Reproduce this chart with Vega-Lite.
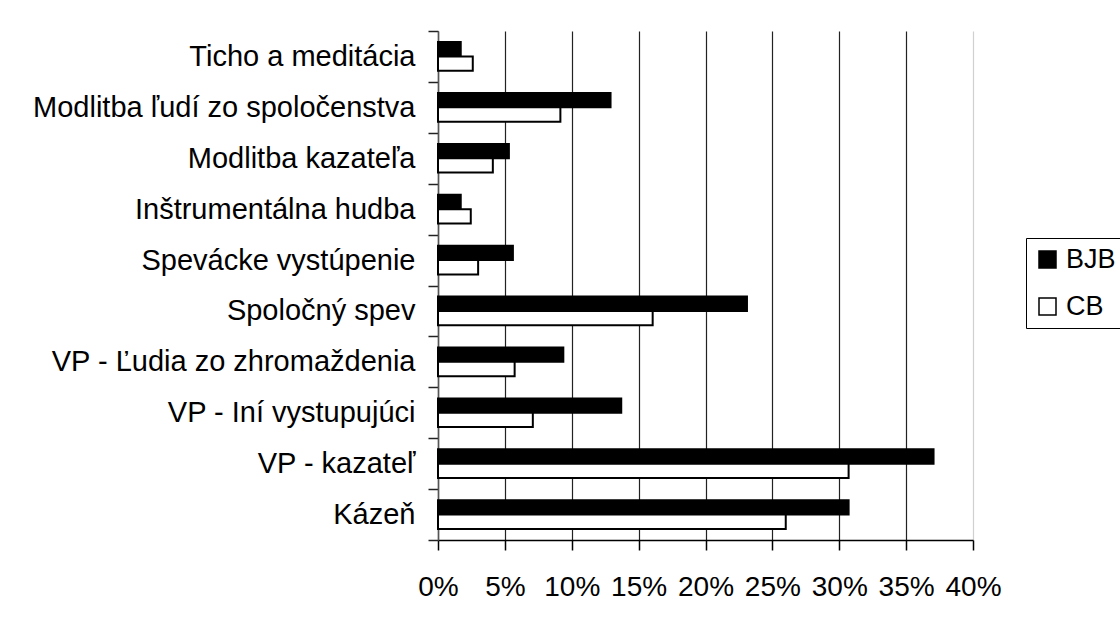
{
  "$schema": "https://vega.github.io/schema/vega-lite/v6.json",
  "width": 535,
  "height": 509,
  "autosize": {"type": "none"},
  "padding": {"left": 438, "top": 31, "right": 147, "bottom": 82},
  "background": "white",
  "data": {
    "values": [
      {"kategoria": "Ticho a meditácia", "skupina": "BJB", "podiel": 0.017},
      {"kategoria": "Ticho a meditácia", "skupina": "CB", "podiel": 0.026},
      {"kategoria": "Modlitba ľudí zo spoločenstva", "skupina": "BJB", "podiel": 0.129},
      {"kategoria": "Modlitba ľudí zo spoločenstva", "skupina": "CB", "podiel": 0.0915},
      {"kategoria": "Modlitba kazateľa", "skupina": "BJB", "podiel": 0.053},
      {"kategoria": "Modlitba kazateľa", "skupina": "CB", "podiel": 0.041},
      {"kategoria": "Inštrumentálna hudba", "skupina": "BJB", "podiel": 0.017},
      {"kategoria": "Inštrumentálna hudba", "skupina": "CB", "podiel": 0.0245},
      {"kategoria": "Spevácke vystúpenie", "skupina": "BJB", "podiel": 0.056},
      {"kategoria": "Spevácke vystúpenie", "skupina": "CB", "podiel": 0.030},
      {"kategoria": "Spoločný spev", "skupina": "BJB", "podiel": 0.231},
      {"kategoria": "Spoločný spev", "skupina": "CB", "podiel": 0.1605},
      {"kategoria": "VP - Ľudia zo zhromaždenia", "skupina": "BJB", "podiel": 0.0937},
      {"kategoria": "VP - Ľudia zo zhromaždenia", "skupina": "CB", "podiel": 0.0573},
      {"kategoria": "VP - Iní vystupujúci", "skupina": "BJB", "podiel": 0.137},
      {"kategoria": "VP - Iní vystupujúci", "skupina": "CB", "podiel": 0.0709},
      {"kategoria": "VP - kazateľ", "skupina": "BJB", "podiel": 0.3705},
      {"kategoria": "VP - kazateľ", "skupina": "CB", "podiel": 0.307},
      {"kategoria": "Kázeň", "skupina": "BJB", "podiel": 0.307},
      {"kategoria": "Kázeň", "skupina": "CB", "podiel": 0.260}
    ]
  },
  "mark": {"type": "bar", "stroke": "black", "strokeWidth": 2},
  "encoding": {
    "y": {
      "field": "kategoria",
      "type": "nominal",
      "sort": ["Ticho a meditácia", "Modlitba ľudí zo spoločenstva", "Modlitba kazateľa", "Inštrumentálna hudba", "Spevácke vystúpenie", "Spoločný spev", "VP - Ľudia zo zhromaždenia", "VP - Iní vystupujúci", "VP - kazateľ", "Kázeň"],
      "scale": {"paddingInner": 0, "paddingOuter": 0},
      "axis": {
        "title": null,
        "tickBand": "extent",
        "grid": false,
        "domainColor": "#555",
        "domainWidth": 1.5,
        "tickColor": "#222",
        "tickWidth": 1.5,
        "tickSize": 10,
        "labelPadding": 13,
        "labelFontSize": 29,
        "labelColor": "black",
        "labelFont": "Liberation Sans",
        "labelLimit": 600
      }
    },
    "yOffset": {
      "field": "skupina",
      "type": "nominal",
      "sort": ["BJB", "CB"],
      "scale": {"paddingOuter": 0.773, "paddingInner": 0}
    },
    "x": {
      "field": "podiel",
      "type": "quantitative",
      "scale": {"domain": [0, 0.4], "nice": false},
      "axis": {
        "title": null,
        "values": [0, 0.05, 0.1, 0.15, 0.2, 0.25, 0.3, 0.35, 0.4],
        "format": ".0%",
        "labelOverlap": false,
        "labelFlush": false,
        "grid": true,
        "gridColor": {"condition": {"test": "datum.value >= 0.399", "value": "#d0d0d0"}, "value": "#222"},
        "gridWidth": 1.2,
        "domainColor": "black",
        "domainWidth": 1.5,
        "tickColor": "black",
        "tickWidth": 1.5,
        "tickSize": 10,
        "labelPadding": 23,
        "labelFontSize": 28,
        "labelColor": "black",
        "labelFont": "Liberation Sans"
      }
    },
    "fill": {
      "field": "skupina",
      "type": "nominal",
      "scale": {"domain": ["BJB", "CB"], "range": ["black", "white"]},
      "legend": {
        "title": null,
        "orient": "none",
        "legendX": 588,
        "legendY": 207,
        "strokeColor": "black",
        "fillColor": "white",
        "padding": 8,
        "labelFontSize": 27,
        "labelFont": "Liberation Sans",
        "labelColor": "black",
        "labelOffset": 5,
        "symbolType": "square",
        "symbolSize": 289,
        "symbolStrokeColor": "black",
        "symbolStrokeWidth": 1.5,
        "rowPadding": 19
      }
    }
  },
  "config": {
    "view": {"stroke": null},
    "font": "Liberation Sans"
  }
}
